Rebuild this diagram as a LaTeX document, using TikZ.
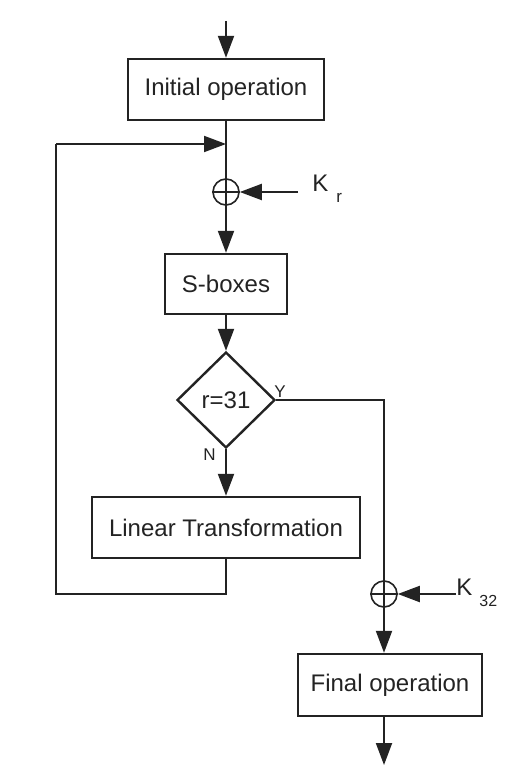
\documentclass[tikz,border=0pt]{standalone}
\usepackage{fontspec}
\setmainfont{Liberation Sans}
\usetikzlibrary{arrows.meta,shapes.geometric}
\definecolor{ink}{RGB}{35,35,35}
\begin{document}
\begin{tikzpicture}[x=0.5pt,y=-0.5pt,
  every node/.style={font=\fontsize{12}{14}\selectfont, text=ink},
  opbox/.style={draw=ink, line width=1.2pt, rectangle, inner sep=0pt},
  decision/.style={draw=ink, line width=1.2pt, diamond, inner sep=0pt, minimum width=49pt, minimum height=48pt},
  xorc/.style={draw=ink, line width=0.8pt, circle, inner sep=0pt, minimum size=13pt},
  flow/.style={draw=ink, line width=1pt},
  arr/.style={flow, -{Triangle[length=11pt,width=8pt]}},
  small/.style={font=\fontsize{8.5}{10}\selectfont},
]
\useasboundingbox (0,0) rectangle (510,780);

\node[opbox, minimum width=98pt, minimum height=30.5pt] (init) at (226,89.5) {Initial operation};
\node[xorc] (x1) at (226,192) {};
\node[opbox, minimum width=61pt, minimum height=30pt] (sbox) at (226,284) {S-boxes};
\node[decision] (dec) at (226,400) {r=31};
\node[opbox, minimum width=134pt, minimum height=30.5pt] (lin) at (226,527.5) {Linear Transformation};
\node[xorc] (x2) at (384,594) {};
\node[opbox, minimum width=92pt, minimum height=31pt] (fin) at (390,685) {Final operation};

\coordinate (in0) at (226,21);
\coordinate (j) at (226,144);
\coordinate (kr0) at (298,192);
\coordinate (k320) at (456,594);
\coordinate (out) at (384,765);
\coordinate (fbl) at (56,594);
\coordinate (fbt) at (56,144);
\coordinate (yc) at (384,400);

% XOR crosses
\draw[ink, line width=0.8pt] (x1.north) -- (x1.south) (x1.west) -- (x1.east);
\draw[ink, line width=0.8pt] (x2.north) -- (x2.south) (x2.west) -- (x2.east);

% labels
\node[anchor=base west, inner sep=0pt] (kr) at (312,192) {K\hspace{4pt}\raisebox{-5.5pt}{\fontsize{8.5}{10}\selectfont r}};
\node[anchor=base west, inner sep=0pt] (k32) at (456,595) {K\hspace{3.5pt}\raisebox{-5.5pt}{\fontsize{8}{10}\selectfont 32}};
\node[small, anchor=base west, inner sep=0pt] (ylab) at (274,397) {Y};
\node[small, anchor=base west, inner sep=0pt] (nlab) at (203,460) {N};

% connectors
\draw[arr] (in0) -- (init.north);
\draw[flow] (init.south) -- (x1.north);
\draw[arr] (kr0) -- (x1.east);
\draw[arr] (x1.south) -- (sbox.north);
\draw[arr] (sbox.south) -- (dec.north);
\draw[arr] (dec.south) -- (lin.north);
\draw[flow] (lin.south) -- (lin.south |- fbl) -- (fbl) -- (fbt);
\draw[arr] (fbt) -- (j);
\draw[flow] (dec.east) -- (yc) -- (x2.north);
\draw[arr] (k320) -- (x2.east);
\draw[arr] (x2.south) -- (x2.south |- fin.north);
\draw[arr] (x2 |- fin.south) -- (out);
\end{tikzpicture}
\end{document}
